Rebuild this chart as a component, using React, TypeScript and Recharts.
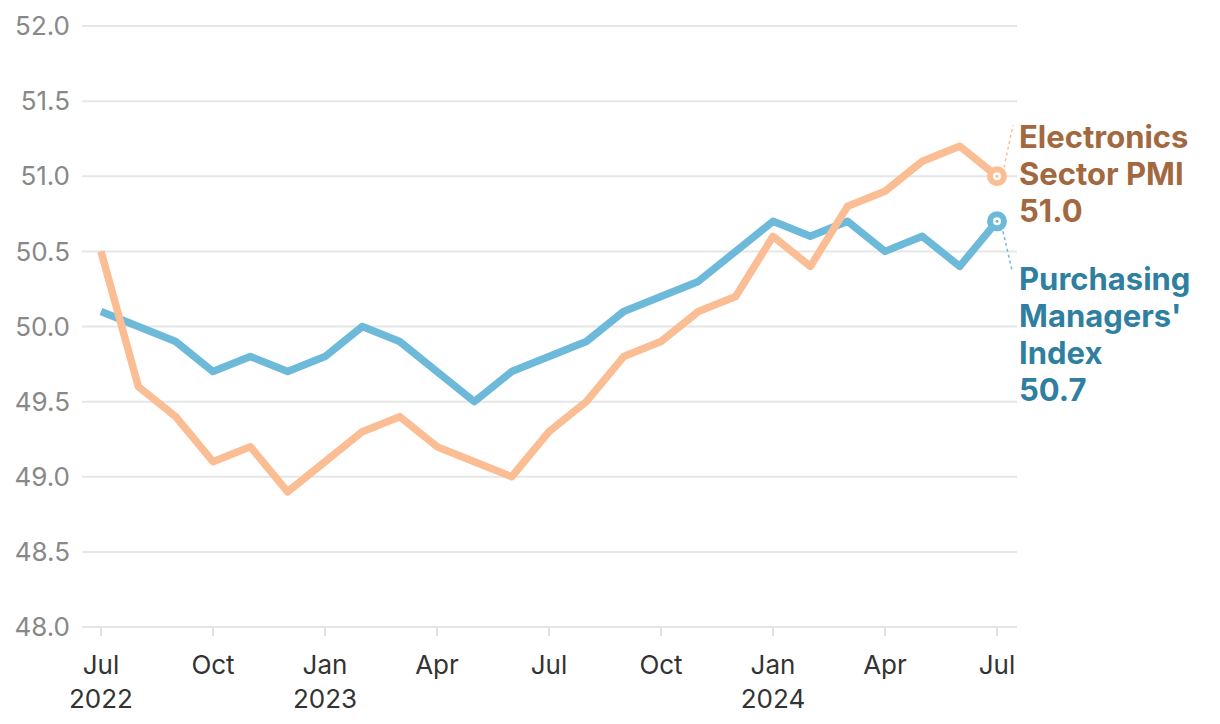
import React from "react";
import { LineChart, Line, XAxis, YAxis, CartesianGrid } from "recharts";

const months = ["Jul","Aug","Sep","Oct","Nov","Dec","Jan","Feb","Mar","Apr","May","Jun","Jul","Aug","Sep","Oct","Nov","Dec","Jan","Feb","Mar","Apr","May","Jun","Jul"];
const years = ["2022","2022","2022","2022","2022","2022","2023","2023","2023","2023","2023","2023","2023","2023","2023","2023","2023","2023","2024","2024","2024","2024","2024","2024","2024"];
const electronics = [50.5,49.6,49.4,49.1,49.2,48.9,49.1,49.3,49.4,49.2,49.1,49.0,49.3,49.5,49.8,49.9,50.1,50.2,50.6,50.4,50.8,50.9,51.1,51.2,51.0];
const pmi = [50.1,50.0,49.9,49.7,49.8,49.7,49.8,50.0,49.9,49.7,49.5,49.7,49.8,49.9,50.1,50.2,50.3,50.5,50.7,50.6,50.7,50.5,50.6,50.4,50.7];
const xTicks = [0,3,6,9,12,15,18,21,24];
const yTicks = [48,48.5,49,49.5,50,50.5,51,51.5,52];

const data = months.map((m, i) => ({ i, month: m, year: years[i], electronics: electronics[i], pmi: pmi[i] }));

const FONT = "Inter, 'Noto Sans', sans-serif";
const ORANGE = "#fbbd93";
const BLUE = "#6db9da";
const BROWN = "#a2683f";
const TEAL = "#2f80a0";

const XTick = (props: any) => {
  const { x, y, payload } = props;
  const i = payload.value as number;
  const showYear = (months[i] === "Jul" && i === 0) || months[i] === "Jan";
  return (
    <g>
      <text x={x} y={y + 36} textAnchor="middle" fontSize={26} fill="#333" fontFamily={FONT}>{months[i]}</text>
      {showYear && (
        <text x={x} y={y + 70} textAnchor="middle" fontSize={26} fill="#333" fontFamily={FONT}>{years[i]}</text>
      )}
    </g>
  );
};

const makeDot = (color: string, textColor: string, lines: string[], offsets: number[], leader: [number, number, number, number]) => (props: any) => {
  const { cx, cy, index } = props;
  if (index !== data.length - 1) return <g key={`d${index}`} />;
  return (
    <g key={`d${index}`}>
      <line x1={cx + leader[0]} y1={cy + leader[1]} x2={cx + leader[2]} y2={cy + leader[3]} stroke={color} strokeWidth={1.5} strokeDasharray="3 3" />
      <circle cx={cx} cy={cy} r={7} fill="#fff" stroke={color} strokeWidth={6} />
      <circle cx={cx} cy={cy} r={1.5} fill={color} />
      {lines.map((t, k) => (
        <text key={k} x={1019} y={cy + offsets[k]} fontSize={31} fontWeight={700} fill={textColor} fontFamily={FONT}>{t}</text>
      ))}
    </g>
  );
};

const orangeDot = makeDot(ORANGE, BROWN, ["Electronics", "Sector PMI", "51.0"], [-28, 9, 46], [7, -9, 16, -51]);
const blueDot = makeDot(BLUE, TEAL, ["Purchasing", "Managers'", "Index", "50.7"], [69, 106, 143, 180], [6, 10, 15, 49]);

export default function App() {
  return (
    <div style={{ position: "absolute", left: 0, top: 0, width: 1220, height: 724, background: "#fff" }}>
      <LineChart width={1220} height={724} data={data} margin={{ top: 26, right: 203, bottom: 37, left: 0 }}>
        <CartesianGrid horizontal vertical={false} stroke="#e6e6e6" strokeWidth={2} />
        <XAxis
          dataKey="i"
          type="number"
          domain={[0, 24]}
          ticks={xTicks}
          padding={{ left: 19, right: 20 }}
          axisLine={false}
          tickLine={{ stroke: "#e0e0e0", strokeWidth: 2 }}
          tickSize={9}
          height={60}
          tick={<XTick />}
          interval={0}
        />
        <YAxis
          domain={[48, 52]}
          ticks={yTicks}
          width={82}
          axisLine={false}
          tickLine={false}
          tickSize={0}
          tickMargin={12}
          tickFormatter={(v: number) => v.toFixed(1)}
          tick={{ fontSize: 26, fill: "#888", fontFamily: FONT }}
          interval={0}
        />
        <Line dataKey="pmi" stroke={BLUE} strokeWidth={7.5} isAnimationActive={false} dot={blueDot} activeDot={false} strokeLinejoin="round" />
        <Line dataKey="electronics" stroke={ORANGE} strokeWidth={7.5} isAnimationActive={false} dot={orangeDot} activeDot={false} strokeLinejoin="round" />
      </LineChart>
    </div>
  );
}
